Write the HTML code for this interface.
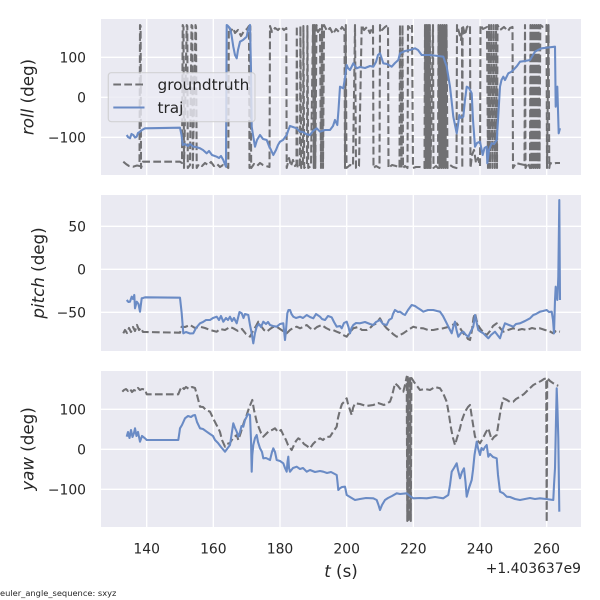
<!DOCTYPE html>
<html>
<head>
<meta charset="utf-8">
<style>
  html,body{margin:0;padding:0;background:#fff;}
  svg{display:block;}
  text{font-family:"DejaVu Sans","Liberation Sans",sans-serif;fill:#262626;}
</style>
</head>
<body>
<svg width="600" height="600" viewBox="0 0 600 600" xmlns="http://www.w3.org/2000/svg">
  <defs>
    <clipPath id="c1"><rect x="101" y="19" width="480" height="156"/></clipPath>
    <clipPath id="c2"><rect x="101" y="195" width="480" height="156"/></clipPath>
    <clipPath id="c3"><rect x="101" y="371" width="480" height="156"/></clipPath>
  </defs>
  <rect x="0" y="0" width="600" height="600" fill="#ffffff"/>

  <!-- axes backgrounds -->
  <rect x="101" y="19" width="480" height="156" fill="#EAEAF2"/>
  <rect x="101" y="195" width="480" height="156" fill="#EAEAF2"/>
  <rect x="101" y="371" width="480" height="156" fill="#EAEAF2"/>

  <!-- grid -->
  <g stroke="#ffffff" stroke-width="1.4" fill="none">
    <path d="M146.67,19V175M213.33,19V175M280,19V175M346.67,19V175M413.33,19V175M480,19V175M546.67,19V175"/>
    <path d="M146.67,195V351M213.33,195V351M280,195V351M346.67,195V351M413.33,195V351M480,195V351M546.67,195V351"/>
    <path d="M146.67,371V527M213.33,371V527M280,371V527M346.67,371V527M413.33,371V527M480,371V527M546.67,371V527"/>
    <path d="M101,57.3H581M101,97.3H581M101,137.3H581"/>
    <path d="M101,226.3H581M101,269.3H581M101,312.3H581"/>
    <path d="M101,409.3H581M101,449.3H581M101,489.3H581"/>
  </g>

  <!-- ROLL panel -->
  <g clip-path="url(#c1)" fill="none" stroke-width="2.08" stroke-linejoin="round">
    <path stroke="#707073" stroke-dasharray="7.7,3.3" d="M123.3,161.7 L126,164 L129,166 L133,166.7 L137,165.5 L139.5,166 L140,25 L140.6,26 L141,168 L143,161.7 L180,161.7 L182,163 L182.7,25 L183.5,27 L184,168 L186.7,25 L187.3,26 L187.8,168 L190,165 L191.5,25 L192.3,26 L192.8,168 L195.5,25 L196,27 L196.7,168 L199,164 L202,166 L205,163 L208,165 L211,162 L214,166 L217,164 L220,167 L223,165 L226,166 L228.3,168 L228.8,27 L231,31 L233,28 L235,33 L238,30 L241,36 L244,31 L247,29 L249,26 L249.5,168 L250.3,26 L251.2,168 L254,164 L257,166 L260,163 L263,165 L266,166 L269.5,167 L270,26 L272,32 L275,28 L278,30 L281,27 L284,30 L286.3,28 L286.7,168 L289,158 L291,166 L293,160 L295,166 L296.5,164 L296.8,26 L297.5,168 L300,165 L300.4,26 L301.2,168 L303,166 L303.4,26 L304.2,168 L307,165 L307.4,26 L308.2,168 L311,166 L313,25 L313.8,168 L314.6,25 L315.3,168 L316.5,25 L318,32 L320,29 L321,168 L322,25 L323,168 L324,25 L327,31 L330,28 L333,34 L336,29 L339,32 L342,27 L344.5,30 L345,168 L345.8,25 L346.5,168 L350,165 L353,166 L355,25 L356,168 L359,166 L361.7,25 L364,30 L367,27 L370,33 L373,26 L373.5,168 L376,166 L379.5,168 L380,25 L382,30 L385,27 L388,25 L388.5,168 L392,165 L396,166 L399.5,168 L400,25 L401.5,168 L402.5,25 L403,168 L405,166 L407.5,168 L408,26 L410,28 L412,25 L413,168 L416,167 L420,167 L424.5,168 L425,25 L425.8,168 L426.6,25 L427.4,168 L428.2,25 L429,168 L429.8,25 L430.5,168 L433,25 L433.5,168 L436,166 L438,168 L438.5,25 L439.5,168 L440.5,25 L441.5,168 L442.5,25 L443.5,168 L444.5,25 L445.5,168 L446.5,25 L447.5,168 L450,165 L453,167 L456.5,168 L457,25 L459,32 L461,40 L462,28 L462.3,168 L462.6,25 L465,35 L467,27 L470,25 L470.5,168 L472,155 L474,150 L476,163 L478,158 L480,166 L480.5,25 L483,29 L487,27 L488,168 L489,25 L490,168 L491.2,25 L492.4,168 L493.6,25 L494.8,168 L496,25 L497,168 L497.5,25 L500,30 L504,27 L508,31 L510,28 L512.5,27 L513,168 L516,163 L520,164 L524.5,165 L525,25 L525.5,168 L528,163 L530,168 L530.5,25 L531.5,168 L532.5,25 L533.5,168 L534.5,25 L535.5,168 L536.5,25 L537.5,168 L538.5,25 L539.5,168 L540.3,25 L543,27 L546.5,25 L547,168 L548.5,25 L549.3,168 L550,163 L553,164 L556,163 L560,163"/>
    <path stroke="#6a8bc5" d="M126.7,135 L128,137 L130,138.3 L131.5,134 L133.3,135 L135,137.5 L136.7,136.7 L138,133 L140,131.7 L142,130 L145,128.3 L180,127.7 L181.5,135 L182.7,145 L185,144 L188,146 L190,144 L193.3,146.7 L196,147 L200,148.3 L203,150 L206.7,153.3 L209,151 L212,155 L216.7,156.7 L219,158 L221,156 L223.3,160 L224.5,163 L226,166.7 L226.7,25 L228,26 L230,28.3 L231.5,35 L233.3,46.7 L235,55 L236.7,58.3 L238,50 L240,41.7 L243,40 L246.7,36.7 L248,30 L250,25 L251,70 L251.7,126.7 L253,135 L255,146.7 L257,140 L260,135 L263,139 L266.7,140 L269,146 L271,150 L273.3,155 L276,150 L278,145 L280,141.7 L283,140 L286.7,135 L288,131 L290,126 L293,127 L296.7,128.3 L300,131.7 L303,132 L306,134 L310,135 L313,131 L316.7,128.3 L320,131.7 L325,130 L330,130 L333,126 L335,120 L337.3,125 L338.5,110 L340,86.7 L343.3,88.3 L345,78 L346.7,65 L348,68 L350,70 L353.3,63.3 L356.7,68.3 L360,67 L365,68 L370,66 L373.3,66.7 L376,62 L378,55 L380,53.3 L383.3,63.3 L387,64 L391.7,66.7 L395,63 L398.3,60 L400,53.3 L405,51 L410,50 L413,49 L415,48.3 L418,50 L421.7,55 L430,55 L438,56 L443.3,56.7 L446.7,66.7 L450,86.7 L451.5,100 L453.3,116.7 L455,125 L456.7,133.3 L458,125 L459.3,115 L461,118 L463.3,116.7 L465,100 L466.7,86.7 L469,88 L471.7,93.3 L473,120 L475,146.7 L477,143 L480,141.7 L482.7,155 L484.5,148 L486.7,146.7 L487.3,163.3 L489,150 L491.7,143.3 L494,144 L496.7,140 L498,120 L500,86.7 L501.5,80 L503.3,76.7 L505,80 L508.3,73.3 L511,72 L513.3,70 L517,66 L520,61.7 L525,61 L530,60 L533,55 L535,51.7 L538,50 L541.7,48.3 L548,47.5 L555,46.7 L555.7,106.7 L557.3,86.7 L558.7,133.3 L560,128.3"/>
  </g>

  <!-- PITCH panel -->
  <g clip-path="url(#c2)" fill="none" stroke-width="2.08" stroke-linejoin="round">
    <path stroke="#707073" stroke-dasharray="7.7,3.3" d="M123.3,333.3 L125,330 L127,333 L129,328 L131,332 L133,327 L135,331 L137,325 L139,330 L141,328 L143,332 L145,332 L180,332.7 L181.7,326.7 L185,327 L190,325 L195,328 L200,326.7 L205,328 L210,330 L216.7,331.7 L220,329 L225,330 L230,327 L233.3,328.3 L238,331 L242,329 L246,334 L250,336.7 L253,331 L256,326 L258.3,321.7 L261,326 L264,330 L266.7,331.7 L270,329 L273,327 L276.7,326.7 L280,329 L283,331 L286.7,333.3 L290,330 L293,328 L296.7,326.7 L300,328.3 L303,327 L306.7,325 L310,328 L313.3,330 L317,327 L321.7,325 L326,328 L330,330 L333,330 L336.7,331.7 L340,333 L343,335 L346.7,336.7 L350,332 L353.3,328.3 L358,327 L362,330 L366.7,330 L370,328 L373,325 L376.7,323.3 L378,321 L380,318.3 L383,324 L386.7,328.3 L390,331 L393,334 L396.7,336.7 L400,335 L403.3,333.3 L408,330 L413.3,326.7 L418,328 L423.3,328.3 L428,330 L433.3,330 L438,329 L443.3,328.3 L448,327 L452,325 L456.7,323.3 L460,328 L463.3,333.3 L466,336 L468,339 L470,340 L472,330 L473.5,318 L475,313.3 L476.5,320 L478,325 L480,328.3 L483,332 L486.7,335 L490,331 L493,326 L496.7,323.3 L500,328 L503.3,331.7 L508,330 L513.3,328.3 L518,330 L522,329 L526.7,330 L532,328 L536,329 L540,328.3 L545,330 L549,331 L553.3,333.3 L556,331 L560,331.7"/>
    <path stroke="#6a8bc5" d="M126.7,300 L128.5,302 L130,301.7 L131.7,296.7 L133,299 L134.3,295 L135,308.3 L136.7,301.7 L138.5,304 L140,311.7 L141.7,298.3 L143,298 L145,297.3 L180,297.7 L181.7,313.3 L183.3,333.3 L186,332 L190,333.5 L193.3,333.3 L196,328 L200,323.3 L203,322 L206,320 L210,320 L213,318 L216.7,316.7 L219,320 L221,316 L223.3,321.7 L226,318 L228,320 L230,316.7 L232,321 L234,318 L236.7,323.3 L238,318 L239.5,312 L241.7,313.3 L243.5,318 L245,314 L248.3,315 L250,325 L251.7,333.3 L253.3,343.3 L255,333 L256.7,326.7 L259,324 L261,327 L263.3,321.7 L266,324 L268,322 L270,325 L273,326 L276.7,326.7 L280,324 L283.3,323.3 L285,340 L286,330 L287.3,313.3 L288.5,310 L290,310 L291.5,314 L293.3,316.7 L296,318 L300,316.7 L303,318 L306.7,315 L310,317 L313.3,318.3 L316,314 L320,316.7 L322,319 L325,320 L328,316 L331.7,317.3 L334,322 L336.7,326.7 L340,326 L341.7,328.3 L344,323 L346.7,321.7 L348.5,327 L350,333.3 L351.5,328 L353.3,325 L356,323 L360,323.3 L365,322 L370,324 L373.3,325 L376,322 L380,320 L383,324 L386.7,325 L389,320 L391.7,318.3 L393,314 L395,310 L398,312 L400,311.7 L403,314 L405,315 L408,310 L411.7,305 L415,306 L418.3,308.3 L421,310 L423.3,311.7 L428,310 L433.3,310 L437,311 L440,311.7 L443,316 L446.7,323.3 L449,328 L451.7,333.3 L453.5,326 L455,321.7 L456.5,330 L458.3,336.7 L461,333 L463.3,331.7 L466,335 L468.3,336.7 L471,331 L473.3,326.7 L475,315 L476.5,322 L478.3,330 L481,332 L483.3,333.3 L486,336 L488.3,338.3 L491,335 L495,331.7 L497.5,335 L500,338.3 L502.5,330 L505,323.3 L509,325 L513.3,326.7 L516,324 L520,323.3 L525,321 L530,318.3 L533.3,315 L536,314 L540,311.7 L543,311 L546.7,310 L549,312 L551.7,311.7 L553,320 L554,333.3 L555,300 L555.7,286.7 L556.5,295 L557.3,300 L558,285 L558.3,276.7 L559.3,200 L560,300"/>
  </g>

  <!-- YAW panel -->
  <g clip-path="url(#c3)" fill="none" stroke-width="2.08" stroke-linejoin="round">
    <path stroke="#707073" stroke-dasharray="7.7,3.3" d="M122.3,391.7 L124,390 L126,389 L128,391 L130,389 L132,392 L134,390 L136,391 L138,388 L140,390 L142,389 L145,389.5 L146.7,394.3 L178.3,394.3 L180,390 L181.7,386.7 L184,389 L186,387 L189,389 L192,387 L195,388 L197,395 L200,406.7 L203,407 L206,410 L210,411.7 L213,418 L216,424 L218.3,428.3 L220,432 L222,440 L225,446.7 L227,444 L230,443 L233,438 L236.7,435 L238.3,440 L241,432 L244,422 L246.7,415 L249,408 L252.3,400 L254,410 L256.7,421.7 L259,428 L261,433 L263.3,436.7 L266,434 L269,431 L272,430 L275,428.3 L278,432 L281,430 L283.3,435 L286,440 L288,445 L291.7,450 L294,445 L296,441 L298.3,438.3 L301,440 L304,444 L307,446 L310,448.3 L313,444 L316,441 L320,438.3 L323,440 L326,437 L330,436.7 L333,432 L336.7,426.7 L338,418 L340,410 L342,404 L344,402 L346.7,398.3 L348,404 L350,410 L351.7,415 L353,408 L355,403.3 L360,404 L366,406 L373.3,405 L378,403 L384,405 L390,401.7 L392,396 L395,383.3 L398,386 L401,390 L403.3,391.7 L405,385 L406.7,376.7 L407.3,521 L407.8,377 L408.4,521 L409,377 L409.6,521 L410.2,377 L410.8,521 L411.4,378 L411.7,378.3 L414,382 L417,386 L420,390 L425,389 L430,390 L435,387 L440,388.3 L443,393 L446.7,401.7 L449,415 L451,428 L453,438 L455,445 L457,438 L460,428.3 L462,420 L465,411.7 L468,407 L470,405 L472,418 L475,436.7 L478,441 L480,443.3 L483,438 L486,432 L488.3,428.3 L490,434 L491.7,440 L494,437 L496.7,435 L499,420 L501,408 L503.3,398.3 L507,400 L510,402 L513.3,401.7 L516,399 L520,396.7 L524,394 L528,390 L533.3,385 L537,383 L541,381 L544,379 L546.2,378.3 L546.7,522 L547.2,378 L550,381 L553.3,383.3 L556,385 L558.3,385.7"/>
    <path stroke="#6a8bc5" d="M126.7,436.7 L128,432 L129.5,438 L131,430 L132.5,437 L134,433 L135,428.3 L136.5,436 L138,432 L140,441.7 L142,436 L145,438.3 L146.7,440 L178.3,440 L179.5,432 L180,428.3 L182,425 L185,418.3 L188,416 L191,417 L193,415.5 L195,415 L197,422 L200,428.3 L203,429 L206.7,431.7 L210,434 L213,436 L215,440 L218,443 L221,447 L225,451.7 L227,449 L230,445 L231.5,435 L233.3,423.3 L235,428 L236.7,431.7 L238.3,436.7 L240,432 L241.5,426 L243.3,426.7 L245,420 L246.7,416.7 L248,414 L250,415 L251,440 L251.7,471.7 L252.3,455 L253.3,445 L255,438 L256.7,435 L258,442 L260,448.3 L262,452 L263.3,458.3 L266,458 L270,460 L272,452 L273.3,448.3 L275,452 L276.7,460 L280,461 L283.3,463.3 L285,468 L286.7,471.7 L287.5,462 L288.3,456.7 L289,468 L290,471.7 L293,468 L296.7,466.7 L300,469 L303,468 L306.7,471.7 L310,470 L315,472 L320,471 L323.3,471.7 L327,473 L331,472 L336.7,475 L337.5,482 L338.3,490 L340,488.3 L342,487 L345,486.7 L346.7,495 L350,497 L355,500 L360,499 L366,498 L373.3,498.3 L376.7,500 L378.5,505 L380,510 L382,505 L385,500 L388,498 L392,496 L396.7,493.3 L400,494 L406.7,493.3 L410,496 L413.3,498.3 L420,498 L426.7,498.3 L435,497 L443.3,498.3 L448.3,495 L450,485 L451.7,471.7 L454,468 L456.7,463.3 L458,470 L460,478.3 L462,472 L464,468.3 L465.5,482 L466.7,496.7 L469,488 L471.7,480 L473,470 L474.5,455 L476.7,441.7 L478,448 L480,455 L481.5,448 L483.3,450 L485,447 L486.7,445 L488.3,456.7 L490,454 L493,457 L496.7,458.3 L498,475 L500,491.7 L503.3,493.3 L506.7,496.7 L510,497 L515,499 L520,500 L525,499 L530,498 L535,499 L540,498.3 L546,499 L553.3,500 L554,485 L555,468.3 L556,420 L556.7,388.3 L557.5,410 L558.3,438.3 L559.3,511.7"/>
  </g>

  <!-- Legend -->
  <rect x="108.3" y="72.7" width="146.7" height="49" rx="3" ry="3" fill="rgba(234,234,242,0.8)" stroke="rgba(204,204,204,0.8)" stroke-width="1.2"/>
  <line x1="113.3" y1="84.5" x2="144.5" y2="84.5" stroke="#707073" stroke-width="2.08" stroke-dasharray="7.7,3.3"/>
  <line x1="113.3" y1="107.5" x2="144.5" y2="107.5" stroke="#6a8bc5" stroke-width="2.08"/>
  <text x="157.5" y="90" font-size="15.3">groundtruth</text>
  <text x="157.5" y="113" font-size="15.3">traj</text>

  <!-- y tick labels -->
  <g font-size="13.9" text-anchor="end">
    <text x="86" y="62.3">100</text>
    <text x="86" y="102.3">0</text>
    <text x="86" y="142.3">−100</text>
    <text x="86" y="231.3">50</text>
    <text x="86" y="274.3">0</text>
    <text x="86" y="317.3">−50</text>
    <text x="86" y="414.3">100</text>
    <text x="86" y="454.3">0</text>
    <text x="86" y="494.3">−100</text>
  </g>

  <!-- x tick labels -->
  <g font-size="13.9" text-anchor="middle">
    <text x="146.67" y="553.3">140</text>
    <text x="213.33" y="553.3">160</text>
    <text x="280" y="553.3">180</text>
    <text x="346.67" y="553.3">200</text>
    <text x="413.33" y="553.3">220</text>
    <text x="480" y="553.3">240</text>
    <text x="546.67" y="553.3">260</text>
  </g>
  <text x="581" y="573" font-size="13.9" text-anchor="end">+1.403637e9</text>

  <!-- axis labels -->
  <text x="341" y="577" font-size="16.7" text-anchor="middle"><tspan font-style="italic">t</tspan> (s)</text>
  <text transform="translate(33.5,97) rotate(-90)" font-size="16.7" text-anchor="middle"><tspan font-style="italic">roll</tspan> (deg)</text>
  <text transform="translate(44,273) rotate(-90)" font-size="16.7" text-anchor="middle"><tspan font-style="italic">pitch</tspan> (deg)</text>
  <text transform="translate(33.5,449) rotate(-90)" font-size="16.7" text-anchor="middle"><tspan font-style="italic">yaw</tspan> (deg)</text>

  <text x="0" y="596" font-size="8.3">euler_angle_sequence: sxyz</text>
</svg>
</body>
</html>
